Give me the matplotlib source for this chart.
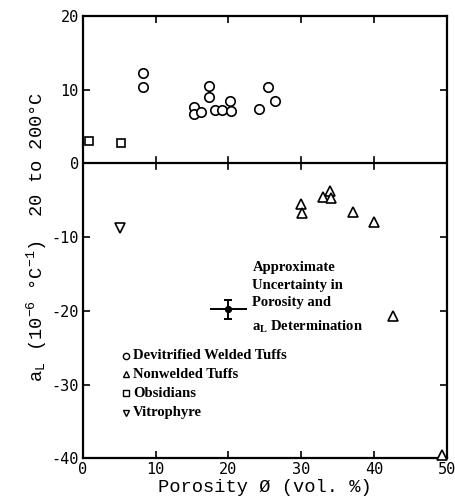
import matplotlib.pyplot as plt
import numpy as np

plt.rcParams['axes.unicode_minus'] = False

# devitrified welded tuffs (circles)
dev_x = [8.2, 8.2, 15.3, 15.3, 16.3, 17.4, 17.3, 18.1, 19.1, 20.2, 20.3, 24.2, 25.4, 26.4]
dev_y = [12.3, 10.4, 7.6, 6.7, 6.9, 10.5, 9.0, 7.2, 7.3, 8.4, 7.1, 7.4, 10.4, 8.4]

# nonwelded tuffs (triangles)
nonw_x = [30.0, 30.1, 33.0, 34.0, 34.1, 37.1, 40.0, 42.6, 49.3]
nonw_y = [-5.5, -6.8, -4.6, -3.7, -4.7, -6.6, -8.0, -20.7, -39.5]

# obsidians (squares)
obs_x = [0.8, 5.3]
obs_y = [3.0, 2.7]

# vitrophyre (down triangle)
vit_x = [5.1]
vit_y = [-8.8]

# uncertainty example
unc_x = [20.0]
unc_y = [-19.8]
unc_xerr = [2.5]
unc_yerr = [1.3]

legend_labels = ['Devitrified Welded Tuffs', 'Nonwelded Tuffs', 'Obsidians', 'Vitrophyre']
legend_markers = ['o', '^', 's', 'v']

fig = plt.figure(figsize=(4.55, 4.97), dpi=100)
ax = fig.add_axes([0.182, 0.078, 0.800, 0.890])

mk = dict(mfc='white', mec='black', mew=1.2, ls='none', clip_on=False, zorder=5)
ax.plot(dev_x, dev_y, 'o', ms=6.8, **mk)
ax.plot(nonw_x, nonw_y, '^', ms=6.8, **mk)
ax.plot(obs_x, obs_y, 's', ms=6.3, **mk)
ax.plot(vit_x, vit_y, 'v', ms=6.8, **mk)

ax.errorbar(unc_x, unc_y, xerr=unc_xerr, fmt='o', color='black', ms=4,
            elinewidth=1.4, capsize=0)
ax.errorbar(unc_x, unc_y, yerr=unc_yerr, fmt='o', color='black', ms=4,
            elinewidth=1.4, capsize=3, capthick=1.4)

ax.axhline(0, color='black', lw=1.6)
for t in [10, 20, 30, 40]:
    ax.plot([t, t], [-0.8, 0.8], color='black', lw=1.2)

ax.set_xlim(0, 50)
ax.set_ylim(-40, 20)
ax.set_xticks([0, 10, 20, 30, 40, 50])
ax.set_yticks([20, 10, 0, -10, -20, -30, -40])
ax.tick_params(direction='in', length=5, width=1.2, top=True, right=True,
               labelsize=11, pad=3)
for lab in ax.get_xticklabels() + ax.get_yticklabels():
    lab.set_family('DejaVu Sans Mono')
for s in ax.spines.values():
    s.set_linewidth(1.6)

ax.set_xlabel('Porosity Ø (vol. %)', family='Liberation Mono', fontsize=13.5, labelpad=1)
ax.set_ylabel(r'$\mathregular{a_L}$ (10$^{\mathregular{-6}}$ °C$^{\mathregular{-1}}$)  20 to 200°C',
              family='Liberation Mono', fontsize=13.5, labelpad=1)

# annotation for the uncertainty marker
ax.text(23.3, -13.3, 'Approximate\nUncertainty in\nPorosity and',
        family='Liberation Serif', fontweight='bold', fontsize=10.5,
        va='top', ha='left', linespacing=1.45)
ax.text(23.3, -22.2, r'$\mathregular{a_L}$ Determination',
        family='Liberation Serif', fontweight='bold', fontsize=10.5,
        va='center', ha='left')

# hand-made legend
leg_y = [-26.1, -28.6, -31.2, -33.8]
for m, lab, yy in zip(legend_markers, legend_labels, leg_y):
    ax.plot([5.9], [yy], m, ms=4.5, mfc='white', mec='black', mew=1.0)
    ax.text(6.9, yy, lab, family='Liberation Serif', fontweight='bold',
            fontsize=10.5, va='center', ha='left')

fig.savefig('out.png', dpi=100)
